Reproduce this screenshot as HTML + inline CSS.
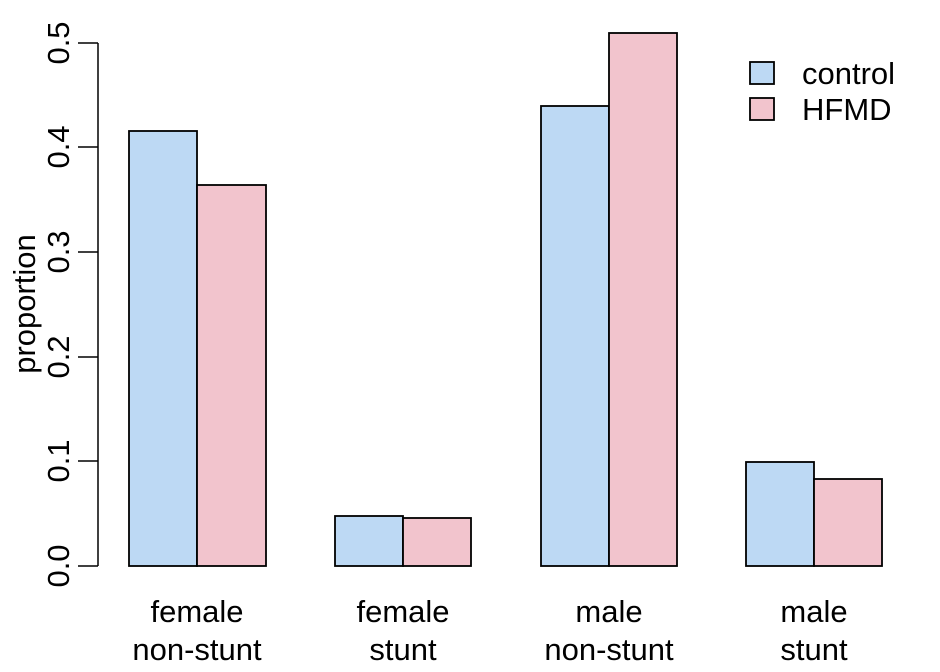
<!DOCTYPE html>
<html><head><meta charset="utf-8"><style>body{margin:0;background:#fff}svg{display:block}</style></head><body>
<svg width="940" height="672" xmlns="http://www.w3.org/2000/svg" font-family="Liberation Sans, sans-serif" fill="#000">
<g stroke="#000" stroke-width="1.5">
<line x1="98" y1="43" x2="98" y2="566"/>
<line x1="78" y1="566" x2="98" y2="566"/>
<line x1="78" y1="461" x2="98" y2="461"/>
<line x1="78" y1="357" x2="98" y2="357"/>
<line x1="78" y1="252" x2="98" y2="252"/>
<line x1="78" y1="147" x2="98" y2="147"/>
<line x1="78" y1="43" x2="98" y2="43"/>
<g stroke-width="1.8">
<rect x="129" y="131" width="68" height="435" fill="#BDD9F4"/>
<rect x="197" y="185" width="69" height="381" fill="#F2C4CD"/>
<rect x="335" y="516" width="68" height="50" fill="#BDD9F4"/>
<rect x="403" y="518" width="68" height="48" fill="#F2C4CD"/>
<rect x="541" y="106" width="68" height="460" fill="#BDD9F4"/>
<rect x="609" y="33" width="68" height="533" fill="#F2C4CD"/>
<rect x="746" y="462" width="68" height="104" fill="#BDD9F4"/>
<rect x="814" y="479" width="68" height="87" fill="#F2C4CD"/>
<rect x="750" y="62" width="24" height="22" fill="#BDD9F4"/>
<rect x="750" y="98" width="24" height="22" fill="#F2C4CD"/>
</g></g>
<g font-size="31" text-anchor="middle" stroke="none">
<text transform="translate(69,566) rotate(-90)">0.0</text>
<text transform="translate(69,461) rotate(-90)">0.1</text>
<text transform="translate(69,357) rotate(-90)">0.2</text>
<text transform="translate(69,252) rotate(-90)">0.3</text>
<text transform="translate(69,147) rotate(-90)">0.4</text>
<text transform="translate(69,43) rotate(-90)">0.5</text>
<text transform="translate(35,304) rotate(-90)">proportion</text>
<text x="197" y="622">female</text><text x="197" y="660">non-stunt</text>
<text x="403" y="622">female</text><text x="403" y="660">stunt</text>
<text x="609" y="622">male</text><text x="609" y="660">non-stunt</text>
<text x="814" y="622">male</text><text x="814" y="660">stunt</text>
</g>
<g font-size="31" stroke="none">
<text x="802" y="84">control</text>
<text x="802" y="120">HFMD</text>
</g>
</svg>
</body></html>
